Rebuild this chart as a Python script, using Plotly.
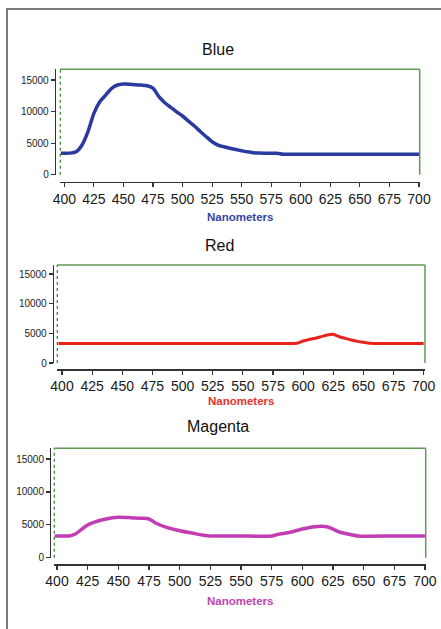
import plotly.graph_objects as go

W, H = 441, 629

# ---------------- data ----------------
blue_nm = [397, 400, 405, 410, 415, 420, 425, 430, 435, 440, 445, 450, 455, 460, 465, 470,
           475, 480, 485, 490, 495, 500, 505, 510, 515, 520, 525, 530, 535, 540, 545, 550,
           555, 560, 565, 570, 575, 580, 585, 590, 600, 625, 650, 675, 700]
blue_val = [3400, 3400, 3420, 3640, 4700, 6810, 9720, 11560, 12620, 13680, 14210, 14370, 14350,
            14250, 14200, 14100, 13700, 12360, 11400, 10670, 9950, 9300, 8500, 7710, 6850, 6020,
            5230, 4700, 4420, 4180, 3980, 3800, 3620, 3490, 3420, 3410, 3400, 3390, 3230, 3230,
            3230, 3230, 3230, 3230, 3230]

red_nm = [397, 425, 450, 500, 550, 590, 595, 600, 605, 610, 615, 620, 625, 630, 635, 640, 645,
          650, 655, 660, 700]
red_val = [3300, 3300, 3300, 3300, 3300, 3300, 3320, 3710, 3950, 4160, 4450, 4720, 4830, 4430,
           4150, 3880, 3650, 3490, 3320, 3300, 3300]

mag_nm = [398, 405, 410, 415, 420, 425, 430, 440, 450, 460, 470, 475, 480, 490, 500, 510, 520,
          525, 550, 575, 580, 590, 600, 610, 620, 625, 630, 640, 645, 675, 700]
mag_val = [3300, 3300, 3300, 3600, 4310, 4970, 5380, 5880, 6140, 6090, 5990, 5880, 5320, 4560,
           4100, 3750, 3400, 3300, 3300, 3300, 3550, 3860, 4360, 4710, 4710, 4360, 3910, 3500,
           3300, 3300, 3300]

x_ticks = [400, 425, 450, 475, 500, 525, 550, 575, 600, 625, 650, 675, 700]
y_ticks = [0, 5000, 10000, 15000]
y_ticklabels = ["0", "5000", "10000", "15000"]

titles = ["Blue", "Red", "Magenta"]
axis_title = "Nanometers"

# ---------------- layout geometry (pixels) ----------------
panels = [
    dict(name=titles[0], nm=blue_nm, val=blue_val, color="#2B3A9E", tcolor="#3444A8",
         xl=60.3, xr=419.7, ytop=69.3, ybot=174.7, xaxis_y=181.7, yaxis_x=54.7,
         xrange=[396.6, 700.6], ymax=16700, title_xy=(218, 49), nm_y=216.5, lw=3.5),
    dict(name=titles[1], nm=red_nm, val=red_val, color="#E8231C", tcolor="#E3342C",
         xl=57.3, xr=425.0, ytop=265.0, ybot=363.0, xaxis_y=369.3, yaxis_x=52.7,
         xrange=[396.1, 701.1], ymax=16520, title_xy=(219, 245.7), nm_y=401.3, lw=3),
    dict(name=titles[2], nm=mag_nm, val=mag_val, color="#C23CB4", tcolor="#C043B2",
         xl=54.3, xr=425.7, ytop=448.3, ybot=557.7, xaxis_y=564.3, yaxis_x=50.0,
         xrange=[397.8, 700.6], ymax=16630, title_xy=(218.3, 426.7), nm_y=601, lw=3.5),
]

def px(x):
    return x / W

def py(y):
    return 1 - y / H

fig = go.Figure()
layout = dict(template="none", width=W, height=H, margin=dict(l=0, r=0, t=0, b=0, pad=0),
              autosize=False, paper_bgcolor="white", plot_bgcolor="rgba(0,0,0,0)",
              showlegend=False)
shapes = []
annotations = []
green = "#5F9A52"
FONT = "Arial, Liberation Sans, sans-serif"

for i, p in enumerate(panels):
    k = "" if i == 0 else str(i + 1)
    fig.add_trace(go.Scatter(x=p["nm"], y=p["val"], mode="lines",
                             line=dict(color=p["color"], width=p["lw"], shape="spline",
                                       smoothing=0.6),
                             xaxis="x" + k, yaxis="y" + k, hoverinfo="skip"))
    layout["xaxis" + k] = dict(domain=[px(p["xl"]), px(p["xr"])], range=p["xrange"],
                               anchor="free", position=py(p["xaxis_y"]), automargin=False,
                               showline=True, linecolor="#333333", linewidth=1.2,
                               ticks="outside", ticklen=4, tickcolor="#333333", tickwidth=1.2,
                               tickvals=x_ticks, showgrid=False, zeroline=False,
                               tickfont=dict(family=FONT, size=14, color="#1a1a1a"))
    layout["yaxis" + k] = dict(domain=[py(p["ybot"]), py(p["ytop"])], range=[0, p["ymax"]],
                               anchor="free", position=px(p["yaxis_x"]), automargin=False,
                               showline=True, linecolor="#333333", linewidth=1.2,
                               ticks="outside", ticklen=4, tickcolor="#333333", tickwidth=1.2,
                               tickvals=y_ticks, ticktext=y_ticklabels,
                               showgrid=False, zeroline=False,
                               tickfont=dict(family=FONT, size=10, color="#222222"))
    # green box: top, right solid; left dotted
    shapes.append(dict(type="line", xref="paper", yref="paper",
                       x0=px(p["xl"]), x1=px(p["xr"]), y0=py(p["ytop"]), y1=py(p["ytop"]),
                       line=dict(color=green, width=1.5)))
    shapes.append(dict(type="line", xref="paper", yref="paper",
                       x0=px(p["xr"]), x1=px(p["xr"]), y0=py(p["ybot"]), y1=py(p["ytop"]),
                       line=dict(color=green, width=1.5)))
    shapes.append(dict(type="line", xref="paper", yref="paper",
                       x0=px(p["xl"]), x1=px(p["xl"]), y0=py(p["ybot"]), y1=py(p["ytop"]),
                       line=dict(color="#3F8A3A", width=1.3, dash="dot")))
    tx, ty = p["title_xy"]
    annotations.append(dict(text=p["name"], xref="paper", yref="paper", x=px(tx), y=py(ty),
                            xanchor="center", yanchor="middle", showarrow=False,
                            font=dict(family=FONT, size=16, color="#111111")))
    annotations.append(dict(text="<b>" + axis_title + "</b>", xref="paper", yref="paper",
                            x=px((p["xl"] + p["xr"]) / 2), y=py(p["nm_y"]),
                            xanchor="center", yanchor="middle", showarrow=False,
                            font=dict(family=FONT, size=11.5, color=p["tcolor"])))

# outer frame (top and left)
shapes.append(dict(type="line", xref="paper", yref="paper", x0=px(6), x1=1, y0=py(9), y1=py(9),
                   line=dict(color="#7a7a7a", width=2)))
shapes.append(dict(type="line", xref="paper", yref="paper", x0=px(7), x1=px(7), y0=0, y1=py(8),
                   line=dict(color="#7a7a7a", width=2)))

layout["shapes"] = shapes
layout["annotations"] = annotations
fig.update_layout(**layout)

page_fix = ("document.documentElement.style.margin='0';document.body.style.margin='0';"
            "document.body.style.padding='0';document.body.style.overflow='hidden';")
fig.write_html("out.html", post_script=page_fix,
               config={"displayModeBar": False, "staticPlot": True})
